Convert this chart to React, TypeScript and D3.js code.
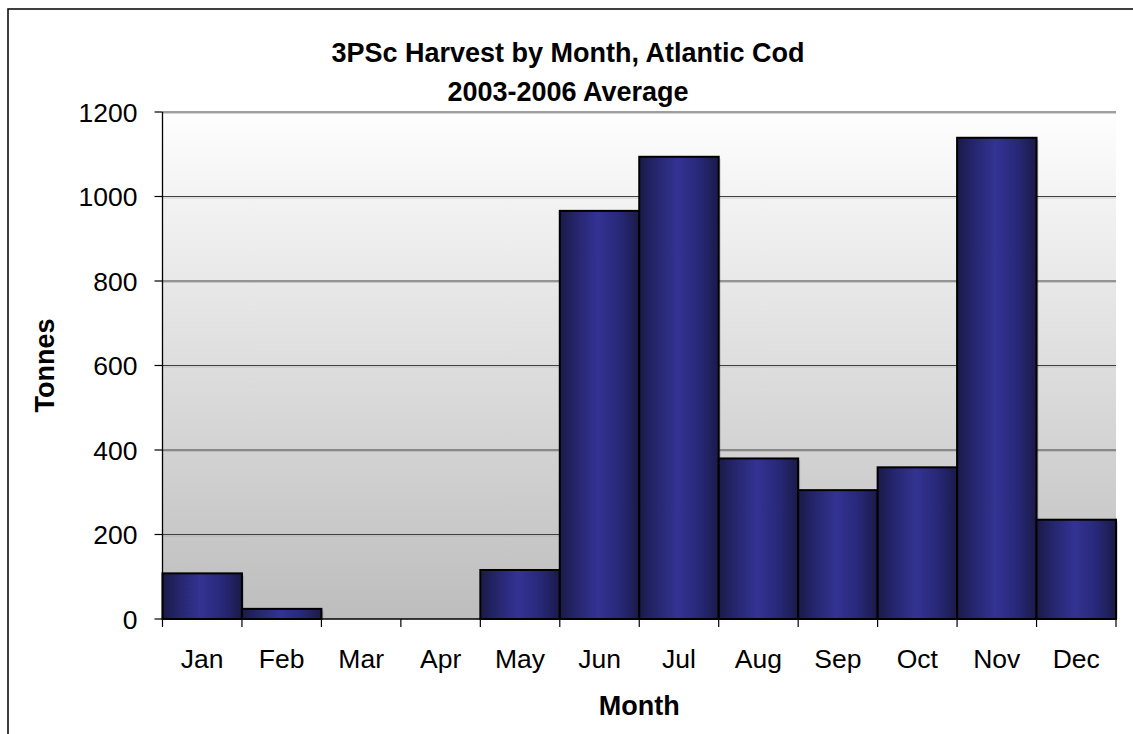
import React from "react";
import * as d3 from "d3";

// Average monthly harvest of Atlantic cod in 3PSc, 2003-2006 (tonnes)
const months = ["Jan", "Feb", "Mar", "Apr", "May", "Jun", "Jul", "Aug", "Sep", "Oct", "Nov", "Dec"];
const tonnes = [108, 24, 0, 0, 116, 966, 1094, 380, 305, 359, 1139, 235];
const yTicks = [0, 200, 400, 600, 800, 1000, 1200];

const titleLines = ["3PSc Harvest by Month, Atlantic Cod", "2003-2006 Average"];
const xTitle = "Month";
const yTitle = "Tonnes";

const W = 1133;
const H = 734;
const plot = { left: 162.5, right: 1116, top: 112, bottom: 619 };
const FONT = "'Liberation Sans', Arial, Helvetica, sans-serif";

export default function App() {
  const x = d3.scaleBand<string>().domain(months).range([plot.left, plot.right]).padding(0);
  const y = d3.scaleLinear().domain([0, 1200]).range([plot.bottom, plot.top]);
  const bounds = [...months.map((m) => x(m) as number), plot.right];

  return (
    <svg
      width={W}
      height={H}
      viewBox={`0 0 ${W} ${H}`}
      style={{ position: "absolute", left: 0, top: 0, background: "#ffffff" }}
      fontFamily={FONT}
    >
      <defs>
        <linearGradient id="plotBg" x1="0" y1="0" x2="0" y2="1">
          <stop offset="0%" stopColor="#fefefe" />
          <stop offset="100%" stopColor="#bdbdbd" />
        </linearGradient>
        <linearGradient id="barFill" x1="0" y1="0" x2="1" y2="0">
          <stop offset="0%" stopColor="#1a1a48" />
          <stop offset="22%" stopColor="#26266f" />
          <stop offset="48%" stopColor="#333393" />
          <stop offset="75%" stopColor="#28287a" />
          <stop offset="100%" stopColor="#1a1a48" />
        </linearGradient>
      </defs>

      {/* chart frame */}
      <rect x={8} y={9} width={1200} height={800} fill="#ffffff" stroke="#000" strokeWidth={1.5} />

      {/* title */}
      <text x={568} y={62} textAnchor="middle" fontSize={27} fontWeight="bold" fill="#000">
        {titleLines[0]}
      </text>
      <text x={568} y={101} textAnchor="middle" fontSize={27} fontWeight="bold" fill="#000">
        {titleLines[1]}
      </text>

      {/* plot background */}
      <rect
        x={plot.left}
        y={plot.top}
        width={plot.right - plot.left}
        height={plot.bottom - plot.top}
        fill="url(#plotBg)"
      />

      {/* gridlines */}
      {yTicks.slice(1).map((t) => (
        <g key={`g${t}`}>
          <line x1={plot.left} x2={plot.right} y1={y(t) + 1.5} y2={y(t) + 1.5} stroke="#a8a8a8" strokeWidth={1} opacity={0.5} />
          <line x1={plot.left} x2={plot.right} y1={y(t)} y2={y(t)} stroke="#404040" strokeWidth={1.2} />
        </g>
      ))}

      {/* bars */}
      {months.map((m, i) => {
        const v = tonnes[i];
        if (v <= 0) return null;
        const bx = x(m) as number;
        const bw = x.bandwidth();
        return (
          <g key={m}>
            <rect x={bx + 2} y={y(v) + 2} width={bw} height={y(0) - y(v) - 2} fill="#000" opacity={0.15} />
            <rect
              x={bx}
              y={y(v)}
              width={bw}
              height={y(0) - y(v)}
              fill="url(#barFill)"
              stroke="#000"
              strokeWidth={2}
            />
          </g>
        );
      })}

      {/* axes */}
      <line x1={plot.left} x2={plot.left} y1={plot.top} y2={plot.bottom} stroke="#000" strokeWidth={1.3} />
      <line x1={plot.left} x2={plot.right} y1={plot.bottom} y2={plot.bottom} stroke="#000" strokeWidth={1.3} />

      {yTicks.map((t) => (
        <g key={`y${t}`}>
          <line x1={plot.left - 8} x2={plot.left} y1={y(t)} y2={y(t)} stroke="#000" strokeWidth={1.2} />
          <text x={137.5} y={y(t)} dy="0.36em" textAnchor="end" fontSize={26.5} fill="#000">
            {t}
          </text>
        </g>
      ))}

      {bounds.map((bx, i) => (
        <line key={`xt${i}`} x1={bx} x2={bx} y1={plot.bottom} y2={plot.bottom + 8} stroke="#000" strokeWidth={1.2} />
      ))}
      {months.map((m) => (
        <text
          key={`xl${m}`}
          x={(x(m) as number) + x.bandwidth() / 2}
          y={668}
          textAnchor="middle"
          fontSize={26.5}
          fill="#000"
        >
          {m}
        </text>
      ))}

      {/* axis titles */}
      <text x={(plot.left + plot.right) / 2} y={715} textAnchor="middle" fontSize={27} fontWeight="bold" fill="#000">
        {xTitle}
      </text>
      <text
        transform={`translate(54, ${(plot.top + plot.bottom) / 2}) rotate(-90)`}
        textAnchor="middle"
        fontSize={27}
        fontWeight="bold"
        fill="#000"
      >
        {yTitle}
      </text>
    </svg>
  );
}
